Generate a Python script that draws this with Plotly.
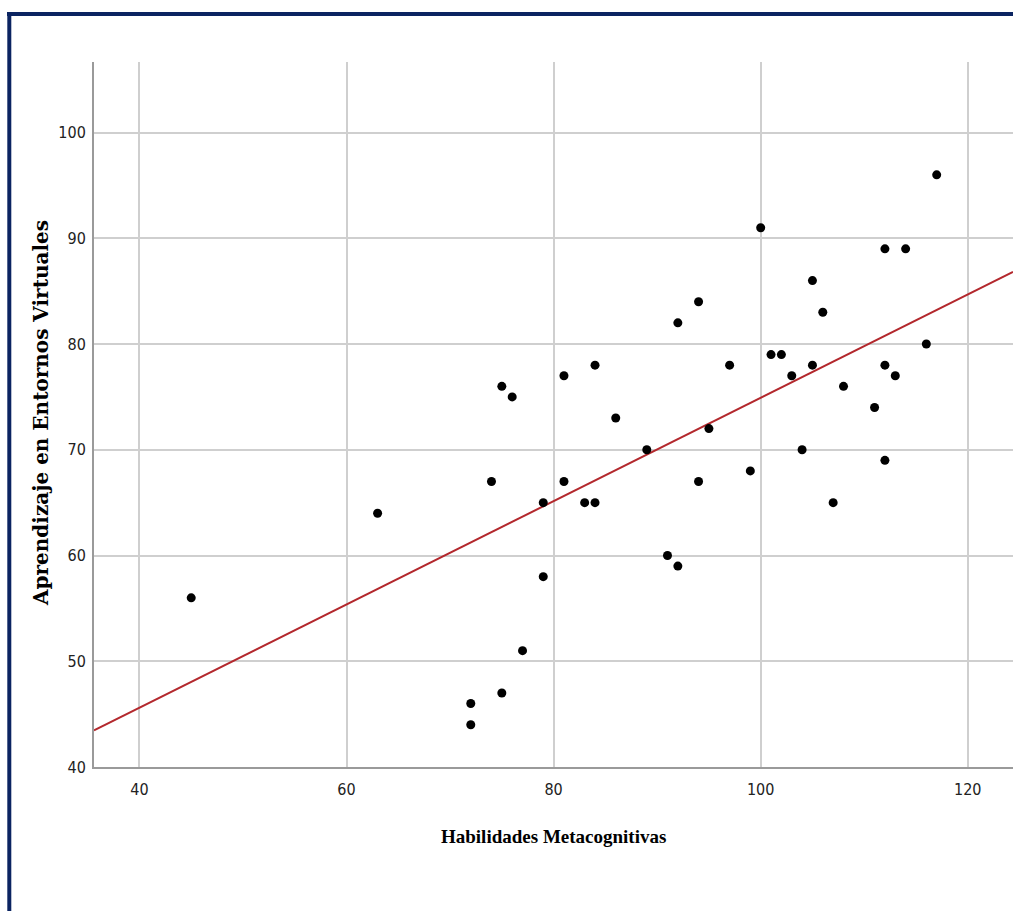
import numpy as np
import plotly.graph_objects as go

# Habilidades Metacognitivas (x) vs Aprendizaje en Entornos Virtuales (y)
habilidades = [45, 63, 72, 72, 74, 75, 75, 76, 77, 79, 79, 81, 81, 83, 84, 84, 86, 89,
               91, 92, 92, 94, 94, 95, 97, 99, 100, 101, 102, 103, 104, 105, 105, 106,
               107, 108, 111, 112, 112, 112, 113, 114, 116, 117]
aprendizaje = [56, 64, 46, 44, 67, 76, 47, 75, 51, 65, 58, 77, 67, 65, 78, 65, 73, 70,
               60, 82, 59, 84, 67, 72, 78, 68, 91, 79, 79, 77, 70, 86, 78, 83,
               65, 76, 74, 89, 78, 69, 77, 89, 80, 96]

# linear fit line (total sample)
fit_intercept = 26.07
fit_slope = 0.4884

x_ticks = [40, 60, 80, 100, 120]
y_ticks = [40, 50, 60, 70, 80, 90, 100]
x_range = [35.61, 124.37]
y_range = [40, 106.67]

fit_x = np.array(x_range)
fit_y = fit_intercept + fit_slope * fit_x

W, H = 1013, 911
L, R, T, B = 94, 0, 62, 144
pw, ph = W - L - R, H - T - B


def px(xp):
    return (xp - L) / pw


def py(yp):
    return (H - B - yp) / ph


fig = go.Figure()
fig.add_trace(go.Scatter(
    x=fit_x, y=fit_y, mode="lines",
    line=dict(color="#b3282d", width=2),
    hoverinfo="skip", showlegend=False, cliponaxis=True,
))
fig.add_trace(go.Scatter(
    x=habilidades, y=aprendizaje, mode="markers",
    marker=dict(color="black", size=9, line=dict(width=0)),
    showlegend=False, cliponaxis=False,
))

tick_font = dict(family="Liberation Sans Narrow, Arial Narrow, DejaVu Sans Condensed, Liberation Sans",
                 size=16, color="#222222")

fig.update_xaxes(
    range=x_range, tickvals=x_ticks, showgrid=True, gridcolor="#cfcfcf", gridwidth=1.5,
    showline=True, linecolor="#9a9a9a", linewidth=2, zeroline=False,
    ticks="outside", ticklen=0, ticklabelstandoff=7, tickfont=tick_font,
)
fig.update_yaxes(
    range=y_range, tickvals=y_ticks, showgrid=True, gridcolor="#cfcfcf", gridwidth=1.5,
    showline=True, linecolor="#9a9a9a", linewidth=2, zeroline=False,
    ticks="outside", ticklen=0, ticklabelstandoff=3, tickfont=tick_font,
)

fig.update_layout(
    width=W, height=H,
    margin=dict(l=L, r=R, t=T, b=B, pad=0),
    paper_bgcolor="white", plot_bgcolor="white",
    annotations=[
        dict(text="<b>Habilidades Metacognitivas</b>", xref="paper", yref="paper",
             x=px(553), y=py(836), xanchor="center", yanchor="middle", showarrow=False,
             font=dict(family="Liberation Serif", size=19, color="black")),
        dict(text="<b>Aprendizaje en Entornos Virtuales</b>", xref="paper", yref="paper",
             x=px(41), y=py(413), xanchor="center", yanchor="middle", showarrow=False,
             textangle=-90,
             font=dict(family="DejaVu Serif", size=20, color="black")),
    ],
    shapes=[
        # navy frame along the top and left edges
        dict(type="line", xref="paper", yref="paper", x0=px(7), x1=px(1013),
             y0=py(14), y1=py(14), line=dict(color="#0b2461", width=4)),
        dict(type="line", xref="paper", yref="paper", x0=px(9.3), x1=px(9.3),
             y0=py(12), y1=py(911), line=dict(color="#0b2461", width=4)),
    ],
)

fig.write_html("out.html")
